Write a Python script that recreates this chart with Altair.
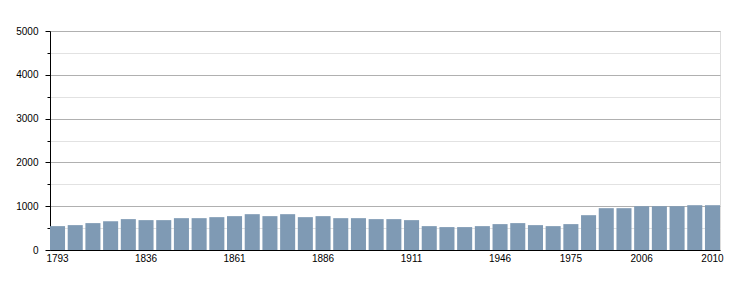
import altair as alt
import pandas as pd

years = [1793, 1800, 1806, 1821, 1831, 1836, 1841, 1846, 1851, 1856,
         1861, 1866, 1872, 1876, 1881, 1886, 1891, 1896, 1901, 1906,
         1911, 1921, 1926, 1931, 1936, 1946, 1954, 1962, 1968, 1975,
         1982, 1990, 1999, 2006, 2007, 2008, 2009, 2010]
population = [545, 568, 614, 659, 705, 682, 682, 727, 727, 750,
              773, 818, 773, 818, 750, 773, 727, 727, 705, 705,
              682, 545, 523, 523, 545, 591, 614, 568, 545, 591,
              795, 955, 955, 1000, 1000, 1000, 1023, 1023]
shown_labels = ["1793", "1836", "1861", "1886", "1911", "1946", "1975", "2006", "2010"]
y_ticks = list(range(0, 5001, 500))

df = pd.DataFrame({"year": years, "population": population})

label_list = "[" + ",".join("'" + s + "'" for s in shown_labels) + "]"

chart = alt.Chart(df).mark_bar(color="#7f9ab4").encode(
    x=alt.X("year:O", sort=years, title=None,
            scale=alt.Scale(paddingInner=0.15, paddingOuter=0),
            axis=alt.Axis(labelAngle=0, ticks=False, labelPadding=3,
                          labelOverlap=False, domainColor="#000000",
                          labelExpr="indexof(" + label_list + ", datum.label) >= 0 ? datum.label : ''")),
    y=alt.Y("population:Q", title=None,
            scale=alt.Scale(domain=[0, 5000], nice=False),
            axis=alt.Axis(values=y_ticks, grid=True,
                          gridColor={"condition": {"test": "datum.value % 1000 === 0", "value": "#b0b0b0"}, "value": "#e2e2e2"},
                          tickSize={"condition": {"test": "datum.value % 1000 === 0", "value": 5}, "value": 3},
                          labelExpr="datum.value % 1000 === 0 ? datum.label : ''",
                          labelPadding=7, domainColor="#000000", tickColor="#000000",
                          format="d")),
).properties(
    width=670, height=219,
    autosize=alt.AutoSizeParams(type="none"),
    padding={"left": 50, "top": 31, "right": 30, "bottom": 50},
).configure_view(stroke=None).configure_axis(
    labelFont="Liberation Sans", labelFontSize=11, labelColor="#000000",
    gridWidth=1, domainWidth=1,
).configure(background="#ffffff")

chart.save("out.html", embed_options={"renderer": "svg", "actions": False})
